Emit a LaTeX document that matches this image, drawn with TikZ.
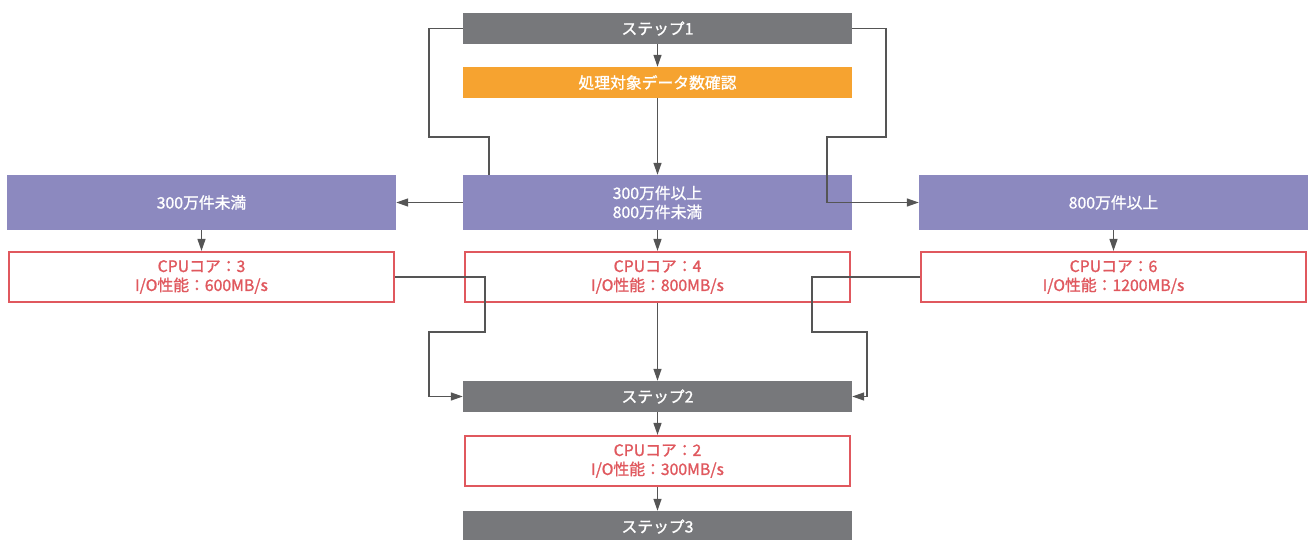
\documentclass[tikz,border=0pt]{standalone}
\usepackage{fontspec}
\setmainfont[FakeBold=1.2]{Noto Sans CJK JP}
\usetikzlibrary{arrows.meta}
\definecolor{stepgray}{HTML}{77787B}
\definecolor{orangefill}{HTML}{F6A330}
\definecolor{purplefill}{HTML}{8C89BF}
\definecolor{redline}{HTML}{E0585E}
\definecolor{conn}{HTML}{555555}
\pgfdeclarelayer{bg}
\pgfsetlayers{bg,main}
\tikzset{
  box/.style={minimum width=389pt, inner sep=0pt, align=center, font=\fontsize{15.8}{19}\selectfont, text=white},
  stepbox/.style={box, fill=stepgray, minimum height=31pt},
  checkbox/.style={box, fill=orangefill, minimum height=31pt},
  condbox/.style={box, fill=purplefill, minimum height=55pt},
  specbox/.style={box, draw=redline, line width=2.2pt, fill=white, text=redline, minimum width=385pt, minimum height=50pt},
  conn/.style={draw=conn, line width=1.3pt, -{Triangle[length=12pt,width=8pt]}},
}
\begin{document}
\begin{tikzpicture}[x=1pt,y=-1pt]
\useasboundingbox (0,0) rectangle (1310,540);
\node[stepbox] (s1) at (657.5,28.5) {ステップ1};
\node[checkbox] (chk) at (657.5,82.5) {処理対象データ数確認};
\node[condbox] (mp) at (657.5,202.5) {300万件以上\\800万件未満};
\node[condbox] (lp) at (201.5,202.5) {300万件未満};
\node[condbox] (rp) at (1113.5,202.5) {800万件以上};
\node[specbox] (lr) at (201.5,277) {CPUコア：3\\I/O性能：600MB/s};
\node[specbox] (mr) at (657.5,277) {CPUコア：4\\I/O性能：800MB/s};
\node[specbox] (rr) at (1113.5,277) {CPUコア：6\\I/O性能：1200MB/s};
\node[stepbox] (s2) at (657.5,396.5) {ステップ2};
\node[specbox] (br) at (657.5,461) {CPUコア：2\\I/O性能：300MB/s};
\node[stepbox] (s3) at (657.5,526.5) {ステップ3};

\coordinate (l1) at (429,28.5);
\coordinate (l2) at (429,137);
\coordinate (l3) at (489,137);
\coordinate (l4) at (489,202.5);
\coordinate (r1) at (886,28.5);
\coordinate (r2) at (886,137);
\coordinate (r3) at (827,137);
\coordinate (r4) at (827,202.5);
\coordinate (a1) at (485,277);
\coordinate (a2) at (485,332);
\coordinate (a3) at (429,332);
\coordinate (a4) at (429,396.5);
\coordinate (b1) at (812,277);
\coordinate (b2) at (812,332);
\coordinate (b3) at (867,332);
\coordinate (b4) at (867,396.5);

\begin{pgfonlayer}{bg}
\draw[conn] (s1.west) -- (l1) -- (l2) -- (l3) -- (l4) -- (lp.east);
\end{pgfonlayer}
\draw[conn] (s1.east) -- (r1) -- (r2) -- (r3) -- (r4) -- (rp.west);
\draw[conn] (s1) -- (chk);
\draw[conn] (chk) -- (mp);
\draw[conn] (lp) -- (lr);
\draw[conn] (mp) -- (mr);
\draw[conn] (rp) -- (rr);
\draw[conn] (mr) -- (s2);
\draw[conn] (lr.east) -- (a1) -- (a2) -- (a3) -- (a4) -- (s2.west);
\draw[conn] (rr.west) -- (b1) -- (b2) -- (b3) -- (b4) -- (s2.east);
\draw[conn] (s2) -- (br);
\draw[conn] (br) -- (s3);
\end{tikzpicture}
\end{document}
